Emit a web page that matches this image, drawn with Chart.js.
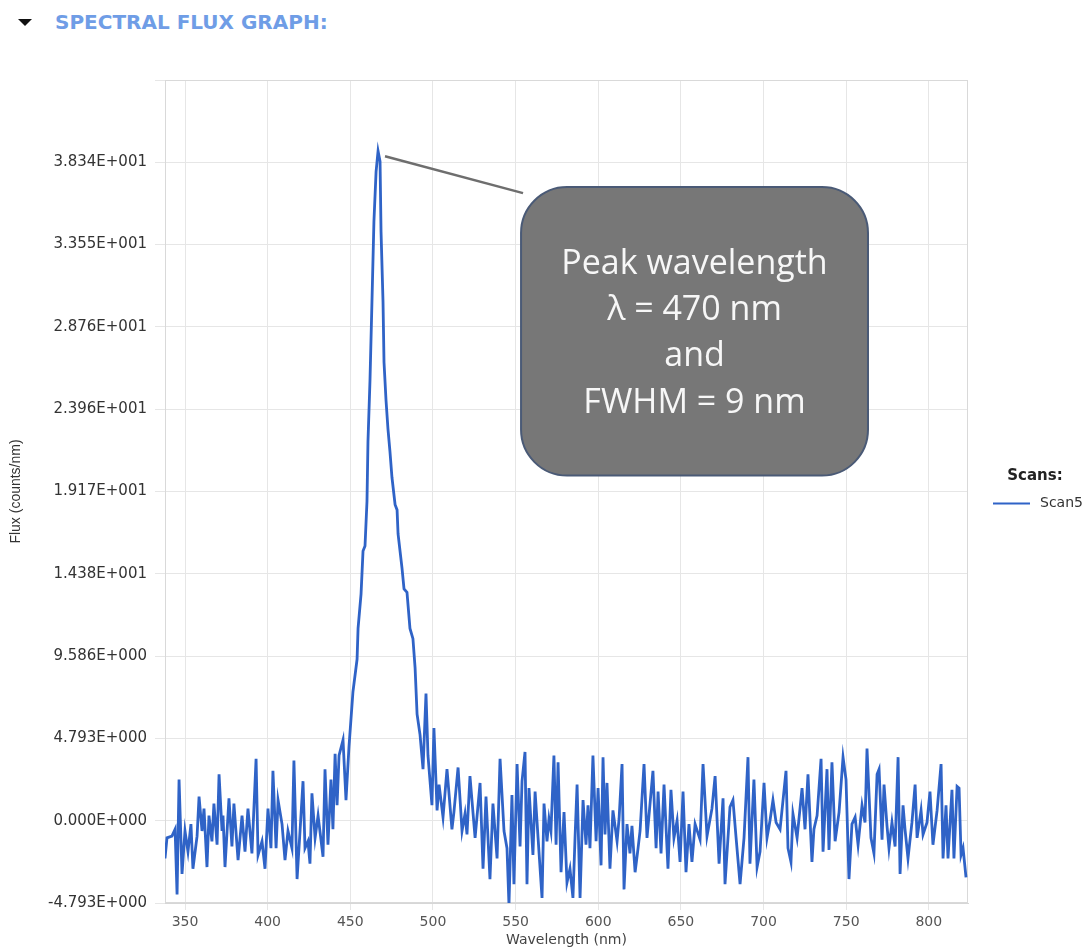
<!DOCTYPE html>
<html>
<head>
<meta charset="utf-8">
<title>Spectral Flux Graph</title>
<script src="https://cdn.jsdelivr.net/npm/chart.js@4.4.1/dist/chart.umd.min.js"></script>
<style>
  html, body { margin: 0; padding: 0; background: #fff; }
  #wrap { position: relative; width: 1091px; height: 951px; }
  #toggle {
    position: absolute; left: 18px; top: 19px; width: 0; height: 0;
    border-left: 7px solid transparent; border-right: 7px solid transparent;
    border-top: 7px solid #111;
  }
  #heading {
    position: absolute; left: 55px; top: 10px;
    font: bold 20px "DejaVu Sans", sans-serif; color: #6f9de6;
  }
  #chart { position: absolute; left: 0; top: 0; }
</style>
</head>
<body>
<div id="wrap">
  <div id="toggle"></div>
  <div id="heading">SPECTRAL FLUX GRAPH:</div>
  <canvas id="chart" width="1091" height="951"></canvas>
</div>
<script>
// values (nm, counts/nm)
const wavelengths = [
  337.9, 339.1, 342.1, 344.0, 345.2, 346.4, 348.2, 350.0, 351.8, 353.6,
  354.8, 357.3, 358.5, 360.3, 361.5, 363.3, 364.5, 366.3, 367.5, 369.4,
  370.6, 372.4, 373.0, 374.2, 376.6, 378.4, 379.6, 382.1, 384.5, 386.3,
  388.1, 390.5, 393.0, 394.2, 396.6, 398.4, 400.2, 402.0, 403.2, 405.1,
  406.3, 408.7, 410.5, 412.3, 414.7, 415.9, 417.8, 419.6, 421.4, 422.6,
  424.4, 425.6, 426.8, 428.7, 430.5, 433.5, 434.7, 436.5, 438.3, 439.5,
  440.8, 442.0, 443.2, 445.6, 447.4, 449.2, 451.6, 454.1, 454.7, 456.5,
  457.7, 458.9, 460.1, 460.7, 461.9, 463.1, 464.3, 465.6, 466.8, 468.0,
  468.6, 469.8, 470.4, 471.6, 472.8, 474.0, 475.2, 477.1, 478.3, 478.9,
  481.3, 482.5, 484.3, 486.1, 487.9, 489.2, 490.4, 492.2, 494.0, 495.8,
  497.0, 499.4, 500.6, 502.5, 503.7, 506.1, 508.5, 511.5, 512.7, 515.2,
  517.6, 519.4, 520.6, 522.4, 525.5, 528.5, 530.3, 532.1, 534.5, 536.3,
  538.8, 540.6, 543.0, 544.8, 546.0, 547.8, 549.0, 550.9, 552.7, 553.9,
  555.7, 556.9, 558.1, 560.5, 561.8, 563.6, 566.0, 567.2, 569.0, 570.2,
  571.4, 573.2, 574.5, 575.7, 577.5, 579.3, 581.1, 582.9, 584.7, 586.0,
  587.2, 589.0, 590.8, 592.6, 593.8, 595.0, 596.8, 598.7, 599.9, 601.7,
  602.9, 604.1, 605.3, 607.1, 608.9, 611.4, 612.6, 614.4, 615.6, 617.4,
  619.2, 620.4, 622.3, 624.1, 625.3, 627.7, 629.5, 630.7, 633.1, 635.0,
  636.2, 638.0, 639.8, 642.2, 644.0, 645.8, 647.7, 649.5, 651.3, 653.1,
  654.9, 656.7, 658.6, 661.6, 663.4, 665.8, 668.8, 670.7, 673.1, 675.5,
  676.7, 679.7, 681.5, 683.4, 685.8, 688.2, 690.6, 691.8, 694.2, 696.1,
  697.9, 700.3, 702.1, 703.9, 705.7, 707.6, 710.0, 713.6, 714.8, 716.6,
  717.8, 720.3, 723.3, 725.1, 726.9, 729.3, 730.5, 732.4, 734.8, 736.0,
  738.4, 739.6, 741.4, 743.3, 745.7, 748.1, 749.9, 751.7, 753.5, 755.4,
  757.2, 759.6, 761.4, 762.6, 765.0, 766.8, 768.7, 769.9, 771.7, 772.9,
  774.7, 775.9, 777.7, 779.6, 781.4, 782.6, 784.4, 785.6, 787.4, 789.8,
  791.7, 792.9, 795.3, 796.5, 798.9, 800.7, 802.5, 805.0, 807.4, 808.6,
  810.4, 811.6, 814.0, 815.2, 817.1, 818.3, 819.5, 820.7, 822.5
];
const flux = [
  -2.2, -1.0, -0.9, -0.5, -4.3, 2.4, -3.1, -0.6, -1.8, -0.2,
  -2.8, -0.9, 1.4, -0.6, 0.7, -2.7, 0.3, -1.2, 1.0, -1.4,
  2.7, -0.6, 0.3, -2.7, 1.3, -1.5, 1.0, -2.3, 0.3, -1.8,
  0.7, -1.9, 3.6, -2.0, -1.2, -2.8, 0.7, -1.6, 2.9, -1.6,
  1.2, -0.2, -2.3, -0.6, -1.6, 3.5, -3.4, -0.6, 2.3, -1.6,
  -1.2, -2.5, 1.6, -1.0, 0.3, -2.1, 3.0, -1.4, 2.4, -0.5,
  3.9, 0.9, 3.8, 4.7, 1.2, 4.3, 7.5, 9.4, 11.2, 13.2,
  15.7, 16.0, 18.6, 22.1, 25.6, 30.2, 34.9, 37.8, 39.0, 38.4,
  34.3, 30.2, 26.7, 24.5, 22.8, 21.5, 20.0, 18.4, 18.1, 16.7,
  14.7, 13.5, 13.3, 11.2, 10.6, 8.9, 6.2, 5.0, 3.0, 7.4,
  3.8, 0.9, 5.4, 0.6, 2.1, 0.2, 3.0, -0.5, 0.5, 3.1,
  -0.6, 0.4, -0.8, 2.6, -1.0, 2.2, -2.8, 1.4, -3.4, 1.0,
  -2.2, 3.6, -0.6, -1.6, -4.9, 1.5, -3.7, 3.3, -1.5, 2.3,
  4.0, -3.7, 1.9, -2.0, 1.7, -1.0, -4.5, 1.0, -1.2, 0.1,
  -0.6, 3.8, -1.4, 3.4, -3.0, 0.5, -3.6, -2.8, -4.5, -0.9,
  2.1, -4.5, 1.2, -1.4, 0.9, -1.6, 3.8, -1.2, 1.9, -2.6,
  3.7, -0.8, 2.2, -2.8, 0.6, -1.2, 0.1, 3.3, -4.0, -0.2,
  -1.9, -0.3, -3.0, -1.6, -0.6, 3.3, -1.0, 0.3, 2.9, -1.6,
  1.7, -1.9, 2.1, -2.8, 1.8, -1.0, 0.0, -2.4, 1.7, -3.0,
  -0.2, -2.4, -0.2, -1.1, 3.3, -0.9, 0.7, 2.6, -2.5, 1.3,
  -3.7, 0.8, 1.2, -1.0, -3.7, -1.0, 3.7, -2.5, 2.4, -2.7,
  -1.8, 2.2, -1.0, 0.0, 1.2, -0.1, -0.5, 2.9, -1.6, -2.4,
  0.4, -1.0, 1.9, -0.5, 2.7, -2.4, -0.5, 0.3, 3.6, -1.8,
  3.0, -1.7, 3.4, -1.2, 0.5, 3.7, 2.4, -3.4, -0.2, 0.2,
  -1.4, 0.9, -0.1, 4.2, -1.0, -1.9, 2.7, 3.0, -1.1, 2.1,
  -0.3, -1.6, -0.1, -1.5, 3.7, -3.1, 0.9, -0.5, -2.2, -0.1,
  2.1, -1.0, 0.6, -0.8, -0.1, 1.7, -1.4, 0.6, 3.3, -2.2,
  0.9, -2.2, 1.8, -2.2, 2.0, 1.9, -2.0, -1.6, -3.3
];
const seriesName = "Scan5";
const xTicks = [350, 400, 450, 500, 550, 600, 650, 700, 750, 800];
const yTicks = [-4.793, 0, 4.793, 9.586, 14.379, 19.172, 23.965, 28.758, 33.551, 38.344, 43.137];
const yTickLabels = [
  "-4.793E+000", "0.000E+000", "4.793E+000", "9.586E+000", "1.438E+001",
  "1.917E+001", "2.396E+001", "2.876E+001", "3.355E+001", "3.834E+001", ""
];

// callout text and where it sits, in data units
const calloutLines = ["Peak wavelength", "\u03bb = 470 nm", "and", "FWHM = 9 nm"];
const calloutAnchor = [471.0, 38.7];
const calloutBox = [553.3, 36.9, 763.2, 20.1]; // xMin, yTop, xMax, yBottom

Chart.defaults.font.family = '"DejaVu Sans", sans-serif';

const plotFrame = {
  id: "plotFrame",
  beforeDatasetsDraw(chart) {
    const { ctx, chartArea: a } = chart;
    ctx.save();
    ctx.strokeStyle = "#d9d9d9";
    ctx.lineWidth = 1;
    ctx.strokeRect(a.left + 0.5, a.top + 0.5, a.width - 1, a.height - 1);
    ctx.restore();
  }
};

const callout = {
  id: "callout",
  afterDatasetsDraw(chart) {
    const { ctx, scales } = chart;
    const x = scales.x, y = scales.y;
    const ax = x.getPixelForValue(calloutAnchor[0]);
    const ay = y.getPixelForValue(calloutAnchor[1]);
    const left = x.getPixelForValue(calloutBox[0]);
    const top = y.getPixelForValue(calloutBox[1]);
    const right = x.getPixelForValue(calloutBox[2]);
    const bottom = y.getPixelForValue(calloutBox[3]);

    ctx.save();
    // connector
    ctx.strokeStyle = "#6e6e6e";
    ctx.lineWidth = 2.5;
    ctx.beginPath();
    ctx.moveTo(ax, ay);
    ctx.lineTo(left + 2, top + 6);
    ctx.stroke();

    // box
    ctx.beginPath();
    ctx.roundRect(left, top, right - left, bottom - top, 46);
    ctx.fillStyle = "#777777";
    ctx.fill();
    ctx.strokeStyle = "#4a5a76";
    ctx.lineWidth = 2;
    ctx.stroke();

    // text
    ctx.fillStyle = "#f7f7f7";
    ctx.font = '34px "Open Sans", sans-serif';
    ctx.textAlign = "center";
    ctx.textBaseline = "alphabetic";
    const cx = (left + right) / 2;
    const cy = (top + bottom) / 2;
    const lh = 46.3;
    calloutLines.forEach((line, i) => {
      ctx.fillText(line, cx, cy + (i - 1.5) * lh + 12);
    });
    ctx.restore();
  }
};

const sideLegend = {
  id: "sideLegend",
  afterDraw(chart) {
    const { ctx, chartArea: a } = chart;
    const ds = chart.data.datasets[0];
    const mid = (a.top + a.bottom) / 2;
    ctx.save();
    ctx.fillStyle = "#222";
    ctx.font = 'bold 15px "DejaVu Sans", sans-serif';
    ctx.textAlign = "center";
    ctx.textBaseline = "middle";
    ctx.fillText("Scans:", a.right + 67, mid - 15);

    ctx.strokeStyle = ds.borderColor;
    ctx.lineWidth = 2;
    ctx.beginPath();
    ctx.moveTo(a.right + 25, mid + 12);
    ctx.lineTo(a.right + 62, mid + 12);
    ctx.stroke();

    ctx.fillStyle = "#333";
    ctx.font = '14px "DejaVu Sans", sans-serif';
    ctx.textAlign = "left";
    ctx.fillText(ds.label, a.right + 72, mid + 12);
    ctx.restore();
  }
};

const points = wavelengths.map((w, i) => ({ x: w, y: flux[i] }));

new Chart(document.getElementById("chart"), {
  type: "line",
  data: {
    datasets: [{
      label: seriesName,
      data: points,
      borderColor: "#2f63c7",
      borderWidth: 2.8,
      pointRadius: 0,
      tension: 0,
      fill: false
    }]
  },
  options: {
    responsive: false,
    animation: false,
    layout: { padding: { top: 80, right: 123, left: 0, bottom: 0 } },
    plugins: {
      legend: { display: false },
      tooltip: { enabled: false }
    },
    scales: {
      x: {
        type: "linear",
        min: 337.9,
        max: 823.7,
        afterBuildTicks: (axis) => { axis.ticks = xTicks.map(v => ({ value: v })); },
        afterFit: (scale) => { scale.height = 48; },
        grid: { color: "#e6e6e6", tickLength: 7 },
        border: { color: "#d6d6d6" },
        ticks: {
          autoSkip: false, maxRotation: 0, padding: 4,
          color: "#555", font: { size: 14 },
          callback: (v) => String(v)
        },
        title: {
          display: true, text: "Wavelength (nm)",
          color: "#444", font: { size: 14 }, padding: { top: 0, bottom: 2 }
        }
      },
      y: {
        min: -4.793,
        max: 43.137,
        afterBuildTicks: (axis) => { axis.ticks = yTicks.map(v => ({ value: v })); },
        afterFit: (scale) => { scale.width = 165; },
        grid: { color: "#e6e6e6", tickLength: 10 },
        border: { color: "#d6d6d6" },
        ticks: {
          autoSkip: false, padding: 8,
          color: "#333", font: { size: 15 },
          callback: (v, i) => yTickLabels[i]
        },
        title: {
          display: true, text: "Flux (counts/nm)",
          color: "#333", font: { size: 14, family: '"Liberation Sans", sans-serif' },
          padding: { top: 8, bottom: 0 }
        }
      }
    }
  },
  plugins: [plotFrame, callout, sideLegend]
});
</script>
</body>
</html>
